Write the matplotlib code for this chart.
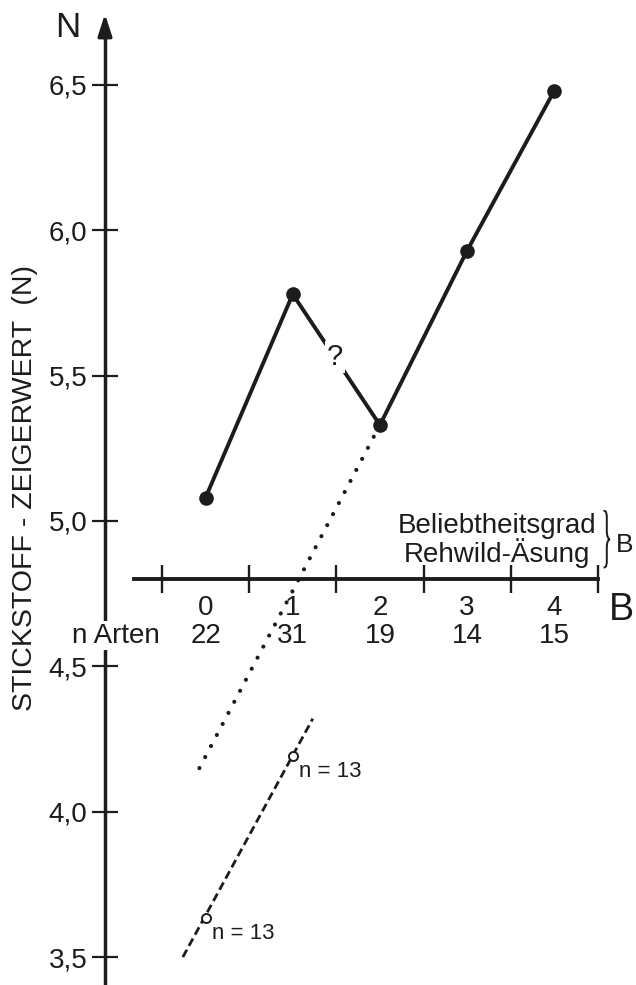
import matplotlib
matplotlib.use('Agg')
import matplotlib.pyplot as plt
from matplotlib.path import Path
from matplotlib.patches import PathPatch

plt.rcParams['font.family'] = ['Liberation Sans', 'DejaVu Sans']

# ---------------- data ----------------
B_levels = [0, 1, 2, 3, 4]
B_labels = ['0', '1', '2', '3', '4']
N_values = [5.08, 5.78, 5.33, 5.93, 6.48]
n_species = [22, 31, 19, 14, 15]
y_ticks = [3.5, 4.0, 4.5, 5.0, 5.5, 6.0, 6.5]
y_tick_labels = ['3,5', '4,0', '4,5', '5,0', '5,5', '6,0', '6,5']
B_bounds = [-0.5, 0.5, 1.5, 2.5, 3.5, 4.5]
extrap_B = [-0.07, 2]
extrap_N = [4.15, 5.33]
open_B = [0, 1]
open_N = [3.635, 4.19]
open_labels = ['n = 13', 'n = 13']
dash_B = [-0.26, 1.23]
dash_N = [3.50, 4.32]

INK = '#1c1c1c'
FS = 20

fig = plt.figure(figsize=(6.36, 9.85), dpi=100)
ax = fig.add_axes([0, 0, 1, 1])
ax.set_xlim(-2.357, 4.937)
ax.set_ylim(3.404, 6.792)
ax.patch.set_visible(False)

YAX_X = -1.153
XAX_Y = 4.801

for s in ['top', 'right']:
    ax.spines[s].set_visible(False)
ax.spines['left'].set_position(('data', YAX_X))
ax.spines['left'].set_bounds(3.404, 6.70)
ax.spines['left'].set_linewidth(2.5)
ax.spines['left'].set_color(INK)
ax.spines['bottom'].set_position(('data', XAX_Y))
ax.spines['bottom'].set_bounds(-0.82, 4.5)
ax.spines['bottom'].set_linewidth(2.8)
ax.spines['bottom'].set_color(INK)

# arrow head on N axis
ax.annotate('', xy=(YAX_X, 6.744), xytext=(YAX_X, 6.66),
            arrowprops=dict(arrowstyle='-|>,head_length=1.3,head_width=0.42',
                            color=INK, lw=2.5, shrinkA=0, shrinkB=0,
                            mutation_scale=10))

# y ticks
ax.set_yticks(y_ticks, y_tick_labels)
ax.tick_params(axis='y', direction='inout', length=19, width=1.6, pad=3.0,
               labelsize=FS, colors=INK)

# x ticks: category labels (major) and boundaries (minor)
ax.set_xticks(B_levels, B_labels)
ax.set_xticks(B_bounds, minor=True)
ax.tick_params(axis='x', which='major', length=0, pad=11.5, labelsize=FS,
               colors=INK)
ax.tick_params(axis='x', which='minor', direction='inout', length=20,
               width=1.7, colors=INK)

# n Arten row
ax.text(-1.032, 4.582, 'n Arten', ha='center', va='baseline', fontsize=FS,
        color=INK, zorder=4,
        bbox=dict(fc='white', ec='none', pad=1.0))
for b, n in zip(B_levels, n_species):
    ax.text(b, 4.582, str(n), ha='center', va='baseline', fontsize=FS,
            color=INK)

# extrapolation dotted line
ax.plot(extrap_B, extrap_N, color=INK, lw=3.0,
        linestyle=(0, (0.01, 2.985)), dash_capstyle='round', zorder=3)

# dashed line with open circles
ax.plot(dash_B, dash_N, color=INK, lw=2.0, linestyle=(0, (3.0, 1.6)), zorder=3)
ax.plot(open_B, open_N, linestyle='none', marker='o', ms=6.5, mfc='white',
        mec=INK, mew=1.4, zorder=4)
for b, n, lab in zip(open_B, open_N, open_labels):
    ax.annotate(lab, xy=(b, n), xytext=(4.5, -15), textcoords='offset points',
                ha='left', va='baseline', fontsize=16, color=INK)

# main line
ax.plot(B_levels, N_values, color=INK, lw=2.8, marker='o', ms=9.5,
        mfc=INK, mec=INK, zorder=5)
ax.text(1.485, 5.564, '?', ha='center', va='center', fontsize=FS + 1,
        color=INK, zorder=6, bbox=dict(fc='white', ec='none', pad=1.5))

# axis titles
ax.text(-1.577, 6.665, 'N', ha='center', va='baseline', fontsize=25,
        color=INK)
ax.text(4.765, 4.660, 'B', ha='center', va='baseline', fontsize=27,
        color=INK)
ax.text(-2.07, 5.114, 'STICKSTOFF - ZEIGERWERT  (N)', rotation=90,
        ha='center', va='center', fontsize=20.5, color=INK)
ax.text(3.343, 4.959, 'Beliebtheitsgrad', ha='center', va='baseline',
        fontsize=FS, color=INK)
ax.text(3.343, 4.859, 'Rehwild-Äsung', ha='center', va='baseline',
        fontsize=FS, color=INK)

# brace
xl, xm, xr = 4.565, 4.602, 4.64
yt, ym, yb = 5.035, 4.937, 4.84
verts = [(xl, yt), (xm, yt), (xm, yt - 0.01), (xm, yt - 0.03),
         (xm, ym + 0.03),
         (xm, ym + 0.006), (xr - 0.015, ym), (xr, ym),
         (xr - 0.015, ym), (xm, ym - 0.006), (xm, ym - 0.03),
         (xm, yb + 0.03),
         (xm, yb + 0.01), (xm, yb), (xl, yb)]
codes = [Path.MOVETO, Path.CURVE4, Path.CURVE4, Path.CURVE4,
         Path.LINETO,
         Path.CURVE4, Path.CURVE4, Path.CURVE4,
         Path.CURVE4, Path.CURVE4, Path.CURVE4,
         Path.LINETO,
         Path.CURVE4, Path.CURVE4, Path.CURVE4]
ax.add_patch(PathPatch(Path(verts, codes), fc='none', ec=INK, lw=1.4))
ax.text(4.81, 4.894, 'B', ha='center', va='baseline', fontsize=19, color=INK)

fig.savefig('out.png', dpi=100)
